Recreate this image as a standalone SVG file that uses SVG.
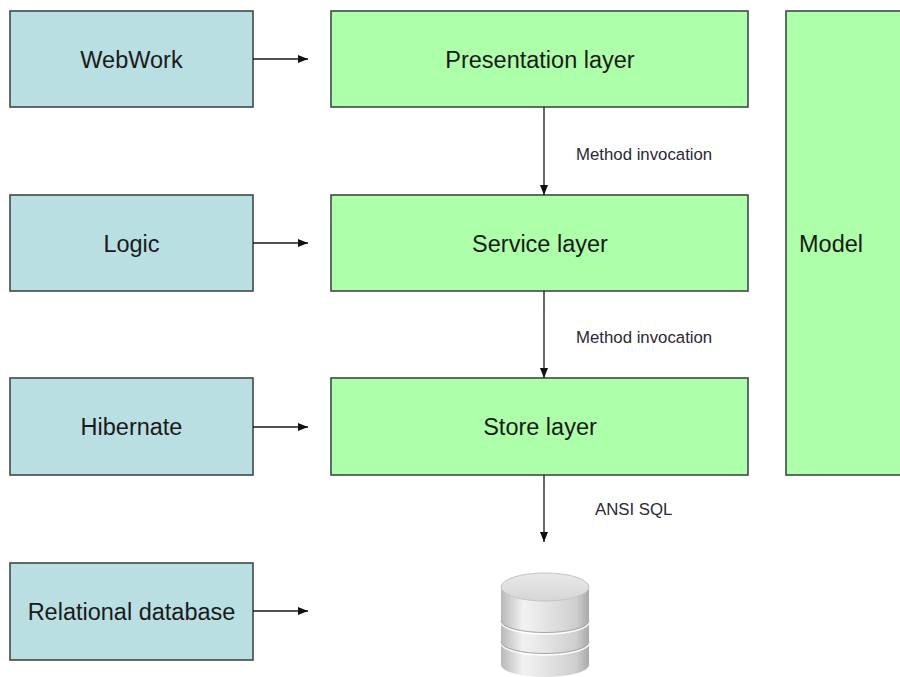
<svg xmlns="http://www.w3.org/2000/svg" width="900" height="677" viewBox="0 0 900 677">
<defs>
<style>
.blue{fill:#b9dfe3;stroke:#3f4a45;stroke-width:1.6}
.green{fill:#adffa9;stroke:#3f4a45;stroke-width:1.6}
.lbl{font-family:"Liberation Sans",Arial,sans-serif;font-size:23.5px;fill:#1a1a1a;text-anchor:middle}
.small{font-family:"Liberation Sans",Arial,sans-serif;font-size:16.8px;fill:#2a2a35}
.conn{stroke:#1a1a1a;stroke-width:1.3;fill:none;marker-end:url(#arr)}
</style>
<marker id="arr" viewBox="0 0 10 8" refX="10" refY="4" markerWidth="10" markerHeight="8" markerUnits="userSpaceOnUse" orient="auto">
<path d="M0,0 L10,4 L0,8 z" fill="#111"/>
</marker>
<linearGradient id="cyl" x1="0" y1="0" x2="1" y2="0">
<stop offset="0" stop-color="#b8b8b8"/>
<stop offset="0.25" stop-color="#f2f2f2"/>
<stop offset="0.5" stop-color="#e4e4e4"/>
<stop offset="0.85" stop-color="#cfcfcf"/>
<stop offset="1" stop-color="#a9a9a9"/>
</linearGradient>
<linearGradient id="cyltop" x1="0" y1="0" x2="0" y2="1">
<stop offset="0" stop-color="#e9e9e9"/>
<stop offset="1" stop-color="#d6d6d6"/>
</linearGradient>
</defs>
<rect width="900" height="677" fill="#ffffff"/>
<g id="webwork"><rect class="blue" x="10" y="11" width="243" height="96"/><text class="lbl" x="131.5" y="68">WebWork</text></g>
<g id="logic"><rect class="blue" x="10" y="195" width="243" height="96"/><text class="lbl" x="131.5" y="252">Logic</text></g>
<g id="hibernate"><rect class="blue" x="10" y="378" width="243" height="97"/><text class="lbl" x="131.5" y="435">Hibernate</text></g>
<g id="reldb"><rect class="blue" x="10" y="563" width="243" height="97"/><text class="lbl" x="131.5" y="620">Relational database</text></g>
<g id="presentation"><rect class="green" x="331" y="11" width="417" height="96"/><text class="lbl" x="540" y="68">Presentation layer</text></g>
<g id="service"><rect class="green" x="331" y="195" width="417" height="96"/><text class="lbl" x="540" y="252">Service layer</text></g>
<g id="store"><rect class="green" x="331" y="378" width="417" height="97"/><text class="lbl" x="540" y="435">Store layer</text></g>
<g id="model"><rect class="green" x="786" y="11" width="130" height="464"/><text class="lbl" x="831" y="252">Model</text></g>
<g id="database">
<path d="M501,587 L501,665 A44,12 0 0 0 589,665 L589,587 Z" fill="url(#cyl)"/>
<path d="M501,622 A44,12 0 0 0 589,622" fill="none" stroke="#ffffff" stroke-width="1.5" opacity="0.9"/>
<path d="M501,620.5 A44,12 0 0 0 589,620.5" fill="none" stroke="#a8a8a8" stroke-width="1"/>
<path d="M501,643 A44,12 0 0 0 589,643" fill="none" stroke="#ffffff" stroke-width="1.5" opacity="0.9"/>
<path d="M501,641.5 A44,12 0 0 0 589,641.5" fill="none" stroke="#a8a8a8" stroke-width="1"/>
<ellipse cx="545" cy="587" rx="44" ry="14" fill="url(#cyltop)" stroke="#c4c4c4" stroke-width="1"/>
</g>
<g id="connectors">
<line class="conn" x1="253" y1="59" x2="308" y2="59"/>
<line class="conn" x1="253" y1="243" x2="308" y2="243"/>
<line class="conn" x1="253" y1="427" x2="308" y2="427"/>
<line class="conn" x1="253" y1="611" x2="308" y2="611"/>
<line class="conn" x1="544" y1="107" x2="544" y2="195"/>
<line class="conn" x1="544" y1="291" x2="544" y2="378"/>
<line class="conn" x1="544" y1="475" x2="544" y2="542"/>
<text class="small" x="576" y="160">Method invocation</text>
<text class="small" x="576" y="343">Method invocation</text>
<text class="small" x="595" y="515">ANSI SQL</text>
</g>
</svg>
